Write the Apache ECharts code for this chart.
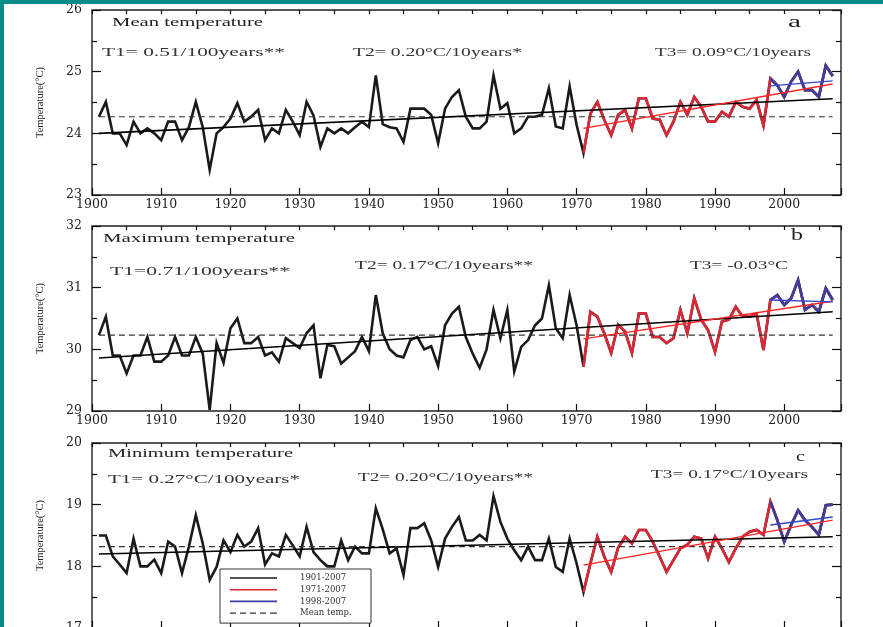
<!DOCTYPE html>
<html><head><meta charset="utf-8">
<script src="https://cdn.jsdelivr.net/npm/echarts@6/dist/echarts.min.js"></script>
<style>html,body{margin:0;padding:0;background:#fff}#c{width:883px;height:627px}</style>
</head><body><div id="c"></div>
<script>
// ---------- data ----------
const years = [];
for (let y = 1901; y <= 2007; y++) years.push(y);

const meanTemp = [
  24.27, 24.51, 24.00, 24.00, 23.81, 24.19, 24.00, 24.08, 24.00, 23.89,
  24.19, 24.19, 23.89, 24.10, 24.51, 24.10, 23.41, 24.00, 24.10, 24.24,
  24.49, 24.19, 24.27, 24.38, 23.89, 24.08, 24.00, 24.38, 24.19, 23.97,
  24.51, 24.29, 23.78, 24.08, 24.00, 24.08, 24.00, 24.10, 24.19, 24.10,
  24.94, 24.15, 24.10, 24.08, 23.86, 24.40, 24.40, 24.40, 24.30, 23.84,
  24.40, 24.59, 24.70, 24.27, 24.08, 24.08, 24.19, 24.94, 24.40, 24.49,
  24.00, 24.08, 24.27, 24.27, 24.30, 24.73, 24.11, 24.08, 24.76, 24.14,
  23.68, 24.32, 24.51, 24.22, 23.97, 24.30, 24.38, 24.08, 24.57, 24.57,
  24.24, 24.22, 23.97, 24.19, 24.51, 24.30, 24.59, 24.43, 24.19, 24.19,
  24.35, 24.27, 24.51, 24.43, 24.40, 24.54, 24.13, 24.89, 24.78, 24.59,
  24.84, 25.00, 24.70, 24.70, 24.59, 25.10, 24.93
];
const maxTemp = [
  30.23, 30.53, 29.90, 29.90, 29.61, 29.90, 29.90, 30.20, 29.80, 29.80,
  29.90, 30.20, 29.90, 29.90, 30.20, 29.93, 29.02, 30.10, 29.78, 30.34,
  30.50, 30.10, 30.10, 30.20, 29.90, 29.95, 29.80, 30.18, 30.10, 30.02,
  30.26, 30.39, 29.53, 30.07, 30.05, 29.77, 29.87, 29.97, 30.20, 29.97,
  30.88, 30.26, 30.00, 29.90, 29.87, 30.15, 30.20, 30.00, 30.05, 29.73,
  30.39, 30.58, 30.69, 30.20, 29.93, 29.70, 30.00, 30.64, 30.18, 30.64,
  29.64, 30.04, 30.15, 30.39, 30.50, 31.04, 30.34, 30.18, 30.88, 30.39,
  29.72, 30.61, 30.53, 30.26, 29.94, 30.40, 30.29, 29.94, 30.58, 30.58,
  30.20, 30.20, 30.10, 30.18, 30.64, 30.26, 30.83, 30.48, 30.31, 29.96,
  30.45, 30.48, 30.69, 30.53, 30.53, 30.58, 29.99, 30.80, 30.88, 30.72,
  30.83, 31.12, 30.64, 30.72, 30.61, 30.99, 30.80
];
const minTemp = [
  18.50, 18.50, 18.16, 18.03, 17.89, 18.45, 18.00, 18.00, 18.11, 17.89,
  18.40, 18.32, 17.89, 18.32, 18.83, 18.37, 17.78, 17.99, 18.42, 18.23,
  18.51, 18.32, 18.40, 18.62, 18.03, 18.21, 18.16, 18.51, 18.34, 18.16,
  18.64, 18.23, 18.10, 18.00, 18.00, 18.42, 18.10, 18.32, 18.21, 18.21,
  18.94, 18.60, 18.21, 18.29, 17.86, 18.62, 18.62, 18.70, 18.42, 17.99,
  18.45, 18.64, 18.80, 18.42, 18.42, 18.51, 18.42, 19.14, 18.72, 18.45,
  18.26, 18.10, 18.32, 18.10, 18.10, 18.45, 17.99, 17.91, 18.45, 18.05,
  17.58, 18.05, 18.48, 18.16, 17.91, 18.30, 18.48, 18.37, 18.59, 18.59,
  18.40, 18.16, 17.91, 18.10, 18.29, 18.35, 18.48, 18.45, 18.13, 18.48,
  18.29, 18.07, 18.29, 18.48, 18.56, 18.59, 18.51, 19.05, 18.75, 18.40,
  18.67, 18.91, 18.75, 18.64, 18.51, 18.99, 19.00
];

// sub-periods (start year, end year) and their legend names
const periods = [[1901, 2007], [1971, 2007], [1998, 2007]];
const periodNames = ['1901-2007', '1971-2007', '1998-2007'];
const meanLineName = 'Mean temp.';

// linear trends: [value at period start, value at period end]
const meanTrend = [[24.00, 24.56], [24.08, 24.80], [24.77, 24.85]];
const maxTrend  = [[29.86, 30.61], [30.17, 30.78], [30.80, 30.77]];
const minTrend  = [[18.20, 18.48], [18.02, 18.75], [18.67, 18.80]];
const meanLevels = [24.27, 30.23, 18.32];

// axis ranges / ticks
const yRanges = [[23, 26], [29, 32], [17, 20]];
const xRange = [1900, 2008.2];
const xMajorStep = 10, xMinorStep = 5, yStep = 1;

// texts
const yAxisName = 'Temperature(°C)';
const panelTitles = ['Mean temperature', 'Maximum temperature', 'Minimum temperature'];
const panelLetters = ['a', 'b', 'c'];
const trendTexts = [
  ['T1= 0.51/100years**', 'T2= 0.20°C/10years*', 'T3= 0.09°C/10years'],
  ['T1=0.71/100years**', 'T2= 0.17°C/10years**', 'T3= -0.03°C'],
  ['T1= 0.27°C/100years*', 'T2= 0.20°C/10years**', 'T3= 0.17°C/10years']
];

// ---------- layout & style ----------
const gridTops = [10, 226, 443];
const gridLeft = 92, gridW = 749, gridH = 185;
const dataColors = ['#1a1a1a', '#dc2836', '#3b3e9c'];
const trendColors = ['#000000', '#ff2424', '#3347c9'];
const serif = '"Liberation Serif", "Times New Roman", serif';
const tickFont = '"DejaVu Serif", serif';

// annotation layout: [left x, center y, target width, font size]
const titlePos = [[112, 23, 151, 11.5], [103, 239, 192, 11.5], [108, 454, 185, 11.5]];
const letterPos = [[788, 23, 13, 17], [791, 236, 12, 17], [796, 457, 9, 15]];
const trendPos = [
  [[102, 53, 183, 11.5], [353, 53, 169, 11.5], [655, 53, 156, 11.5]],
  [[110, 272, 180, 11.5], [355, 266, 178, 11.5], [690, 266, 98, 11.5]],
  [[108, 480, 192, 11.5], [358, 478, 175, 11.5], [651, 475, 157, 11.5]]
];

const ctx = document.createElement('canvas').getContext('2d');
function stretchedText(text, pos, color) {
  const font = pos[3] + 'px ' + serif;
  ctx.font = font;
  const w = ctx.measureText(text).width || 1;
  return {
    type: 'text', x: pos[0], y: pos[1], scaleX: pos[2] / w, z: 50, silent: true,
    style: { text: text, font: font, fill: color || '#222', align: 'left', verticalAlign: 'middle',
             textAlign: 'left', textVerticalAlign: 'middle' }
  };
}

const grids = [], xAxes = [], yAxes = [], series = [];
const panelValues = [meanTemp, maxTemp, minTemp];
const panelTrends = [meanTrend, maxTrend, minTrend];
const tickStyle = { color: '#111', width: 1.2 };

for (let p = 0; p < 3; p++) {
  grids.push({ left: gridLeft, top: gridTops[p], width: gridW, height: gridH, show: true,
               borderColor: '#222', borderWidth: 1.4, backgroundColor: 'transparent',
               outerBoundsMode: 'none', containLabel: false });
  // major x axis (labels)
  xAxes.push({ gridIndex: p, type: 'value', min: xRange[0], max: xRange[1], interval: xMajorStep,
    axisLine: { show: false }, splitLine: { show: false },
    axisTick: { show: true, inside: true, length: 7, lineStyle: tickStyle },
    axisLabel: { show: true, margin: 3, fontFamily: tickFont, fontSize: 12.5, color: '#222',
      formatter: v => (Math.abs(v % xMajorStep) < 1e-6 ? String(v) : '') } });
  // minor x axis (short ticks every 5 years)
  xAxes.push({ gridIndex: p, type: 'value', min: xRange[0], max: xRange[1], interval: xMinorStep,
    axisLine: { show: false }, splitLine: { show: false }, axisLabel: { show: false },
    axisTick: { show: true, inside: true, length: 4, lineStyle: tickStyle } });
  const yr = yRanges[p];
  yAxes.push({ gridIndex: p, type: 'value', min: yr[0], max: yr[1], interval: yStep, position: 'left',
    axisLine: { show: false }, splitLine: { show: false }, minorSplitLine: { show: false },
    axisTick: { show: true, inside: true, length: 9, lineStyle: tickStyle },
    minorTick: { show: true, splitNumber: 2, length: 5, lineStyle: tickStyle },
    axisLabel: { margin: 10, fontFamily: tickFont, fontSize: 12.5, color: '#222' },
    name: yAxisName, nameLocation: 'middle', nameRotate: 90, nameGap: 46,
    nameTextStyle: { fontFamily: serif, fontSize: 10.5, color: '#222' } });
  yAxes.push({ gridIndex: p, type: 'value', min: yr[0], max: yr[1], interval: yStep, position: 'right',
    axisLine: { show: false }, splitLine: { show: false }, minorSplitLine: { show: false },
    axisTick: { show: true, inside: true, length: 9, lineStyle: tickStyle },
    minorTick: { show: true, splitNumber: 2, length: 5, lineStyle: tickStyle },
    axisLabel: { show: false } });

  const vals = panelValues[p];
  for (let k = 0; k < 3; k++) {
    const data = [];
    years.forEach((y, i) => { if (y >= periods[k][0] && y <= periods[k][1]) data.push([y, vals[i]]); });
    series.push({ name: periodNames[k], type: 'line', xAxisIndex: p * 2, yAxisIndex: p * 2, data: data,
      symbol: 'none', silent: true, z: 2 + k,
      lineStyle: { color: dataColors[k], width: 2.6, join: 'miter', miterLimit: 6 },
      itemStyle: { color: dataColors[k] } });
  }
  series.push({ name: meanLineName, type: 'line', xAxisIndex: p * 2, yAxisIndex: p * 2,
    data: [[periods[0][0], meanLevels[p]], [periods[0][1], meanLevels[p]]],
    symbol: 'none', silent: true, z: 6,
    lineStyle: { color: '#333', width: 1.1, type: [6, 4] }, itemStyle: { color: '#333' } });
  const tr = panelTrends[p];
  for (let k = 0; k < 3; k++) {
    series.push({ name: 'trend ' + periodNames[k], type: 'line', xAxisIndex: p * 2, yAxisIndex: p * 2,
      data: [[periods[k][0], tr[k][0]], [periods[k][1], tr[k][1]]],
      symbol: 'none', silent: true, z: 7 + k,
      lineStyle: { color: trendColors[k], width: k === 0 ? 1.6 : 1.4 }, itemStyle: { color: trendColors[k] } });
  }
}

const solidIcon = 'path://M0,0H47V1.6H0Z';
const dashIcon = 'path://M0,0H6V1.2H0Z M10,0H16V1.2H10Z M20,0H26V1.2H20Z M30,0H36V1.2H30Z M40,0H47V1.2H40Z';

const graphics = [
  { type: 'rect', shape: { x: 0, y: 0, width: 883, height: 4 }, style: { fill: '#0a8a88' }, z: 60, silent: true },
  { type: 'rect', shape: { x: 0, y: 0, width: 4, height: 627 }, style: { fill: '#0a8a88' }, z: 60, silent: true }
];
for (let p = 0; p < 3; p++) {
  graphics.push(stretchedText(panelTitles[p], titlePos[p], '#222'));
  graphics.push(stretchedText(panelLetters[p], letterPos[p], '#222'));
  for (let k = 0; k < 3; k++) graphics.push(stretchedText(trendTexts[p][k], trendPos[p][k], '#333'));
}

const chart = echarts.init(document.getElementById('c'), null, { renderer: 'canvas' });
chart.setOption({
  animation: false,
  backgroundColor: '#fff',
  grid: grids, xAxis: xAxes, yAxis: yAxes, series: series,
  legend: {
    data: [
      { name: periodNames[0], icon: solidIcon },
      { name: periodNames[1], icon: solidIcon },
      { name: periodNames[2], icon: solidIcon },
      { name: meanLineName, icon: dashIcon }
    ],
    orient: 'vertical', left: 220, top: 569, itemWidth: 47, itemHeight: 10, itemGap: 1.7,
    padding: [4, 16, 5, 10], borderColor: '#333', borderWidth: 1, backgroundColor: '#fff',
    selectedMode: false, z: 20, itemStyle: { borderWidth: 0 },
    textStyle: { fontFamily: tickFont, fontSize: 8.5, color: '#333', padding: [0, 0, 0, 18], width: 55, lineHeight: 10 }
  },
  graphic: graphics
});
</script></body></html>
